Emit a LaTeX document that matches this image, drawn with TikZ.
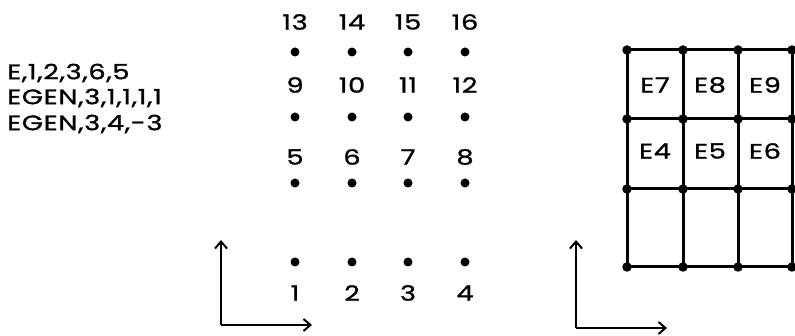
\documentclass[tikz,border=0pt]{standalone}
\usepackage{fontspec}
\setmainfont{Poppins}[FakeStretch=1.3, FakeBold=1.2, LetterSpace=3]
\usetikzlibrary{arrows.meta}
\tikzset{
  txt/.style={inner sep=0pt, font=\fontsize{21}{23}\selectfont},
  bod/.style={circle, fill=black, inner sep=0pt, minimum size=9pt},
  uzel/.style={circle, fill=black, inner sep=0pt, minimum size=9.5pt},
  osa/.style={-{Straight Barb[length=7pt,width=12pt,line width=2pt]}, line width=2.4pt},
  sit/.style={line width=3pt}
}
\begin{document}
\begin{tikzpicture}[x=1pt, y=-1pt]
    \useasboundingbox (0,0) rectangle (795,336);

    % Prikazy
    \node[txt, anchor=west] (cmd1) at (7,73)  {E,1,2,3,6,5};
    \node[txt, anchor=west] (cmd2) at (7,98)  {EGEN,3,1,1,1,1};
    \node[txt, anchor=west] (cmd3) at (7,124) {EGEN,3,4,-3};

    % Uzly (body s cisly)
    \def\radY{{262,183,117,52}}
    \def\labY{{293,157,85,22}}
    \foreach \r in {0,...,3} {
      \foreach \c/\xx in {1/295,2/352,3/408,4/465} {
        \pgfmathtruncatemacro{\n}{4*\r+\c}
        \pgfmathsetmacro{\yy}{\radY[\r]}
        \pgfmathsetmacro{\ly}{\labY[\r]}
        \node[bod] (n\n) at (\xx,\yy) {};
        \node[txt] (l\n) at (\xx,\ly) {\n};
      }
    }

    % Souradnicove osy vlevo
    \coordinate (o1) at (221,325);
    \coordinate (y1) at (221,240);
    \coordinate (x1) at (312,325);
    \draw[osa] (o1) -- (y1);
    \draw[osa] (o1) -- (x1);

    % Sit prvku
    \foreach \i/\xx in {0/627,1/683,2/738,3/792} {
      \foreach \j/\yy in {0/267,1/189,2/119,3/50} {
        \coordinate (g\i\j) at (\xx,\yy);
      }
    }
    \foreach \i in {0,...,3} {
      \draw[sit] (g\i0) -- (g\i3);
      \draw[sit] (g0\i) -- (g3\i);
    }
    \foreach \i in {0,...,3} {
      \foreach \j in {0,...,3} {
        \node[uzel] at (g\i\j) {};
      }
    }

    % Oznaceni prvku
    \node[txt] (e4) at (655,151) {E4};
    \node[txt] (e5) at (710,151) {E5};
    \node[txt] (e6) at (765,151) {E6};
    \node[txt] (e7) at (655,85)  {E7};
    \node[txt] (e8) at (710,85)  {E8};
    \node[txt] (e9) at (765,85)  {E9};

    % Souradnicove osy vpravo
    \coordinate (o2) at (576,328);
    \coordinate (y2) at (576,240);
    \coordinate (x2) at (667,328);
    \draw[osa] (o2) -- (y2);
    \draw[osa] (o2) -- (x2);

\end{tikzpicture}
\end{document}
